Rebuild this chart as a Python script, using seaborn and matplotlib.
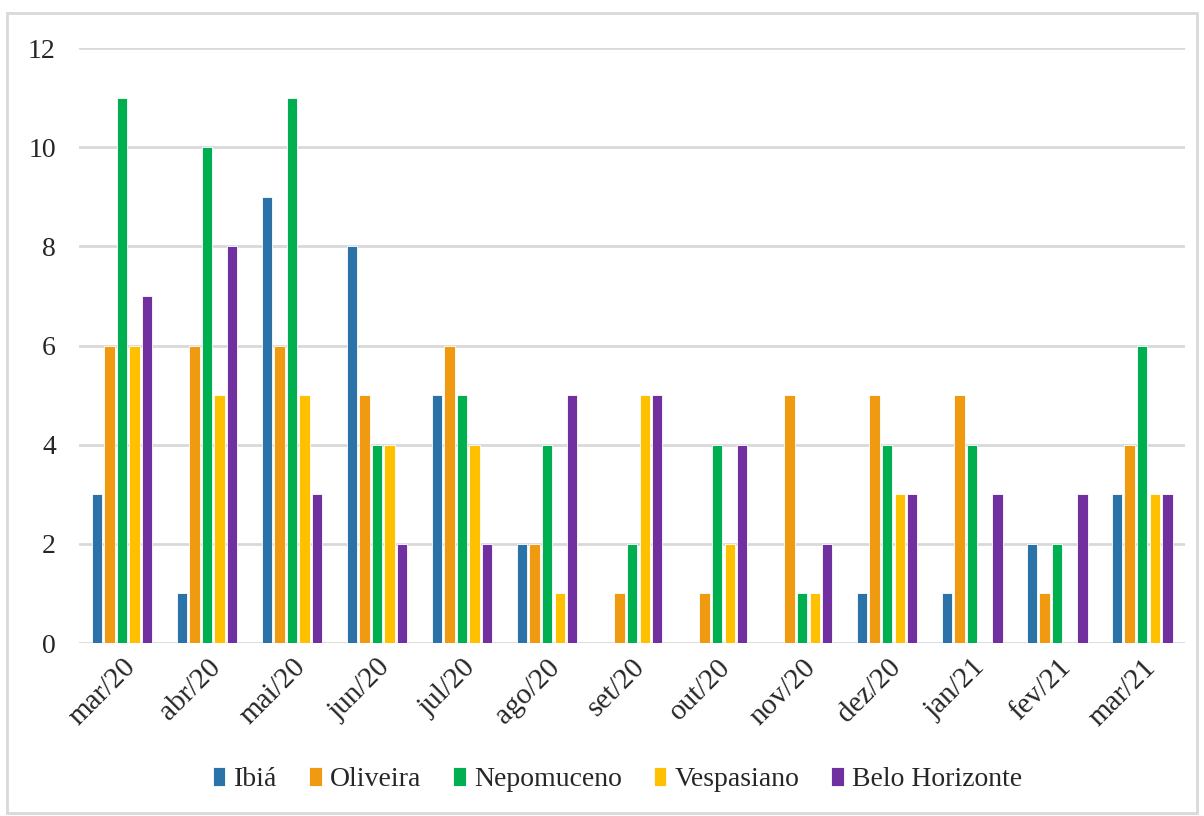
import numpy as np
import pandas as pd
import seaborn as sns
import matplotlib.pyplot as plt
from matplotlib.patches import Rectangle

months = ["mar/20", "abr/20", "mai/20", "jun/20", "jul/20", "ago/20", "set/20",
          "out/20", "nov/20", "dez/20", "jan/21", "fev/21", "mar/21"]
cities = ["Ibiá", "Oliveira", "Nepomuceno", "Vespasiano", "Belo Horizonte"]

ibia = [3, 1, 9, 8, 5, 2, 0, 0, 0, 1, 1, 2, 3]
oliveira = [6, 6, 6, 5, 6, 2, 1, 1, 5, 5, 5, 1, 4]
nepomuceno = [11, 10, 11, 4, 5, 4, 2, 4, 1, 4, 4, 2, 6]
vespasiano = [6, 5, 5, 4, 4, 1, 5, 2, 1, 3, 0, 0, 3]
belo_horizonte = [7, 8, 3, 2, 2, 5, 5, 4, 2, 3, 3, 3, 3]

colors = ["#2A72A8", "#F09A12", "#00B050", "#FFC000", "#7030A0"]

series = [ibia, oliveira, nepomuceno, vespasiano, belo_horizonte]
df = pd.DataFrame({
    "month": months * len(cities),
    "city": np.repeat(cities, len(months)),
    "value": np.concatenate(series),
})

sns.set_style("white")
plt.rcParams["font.family"] = ["Liberation Serif", "DejaVu Serif"]

fig, ax = plt.subplots(figsize=(12.04, 8.16), dpi=100)
fig.subplots_adjust(left=0.066, right=0.984, bottom=0.212, top=0.941)

sns.barplot(
    data=df, x="month", y="value", hue="city",
    order=months, hue_order=cities, palette=colors, saturation=1,
    width=0.74, gap=0.18, edgecolor="white", linewidth=0.6,
    ax=ax
)

ax.set_xlim(-0.5, 12.5)
ax.set_ylim(0, 12)
ax.set_yticks(range(0, 13, 2))
ax.yaxis.grid(True, color="#d9d9d9", linewidth=2)
ax.set_axisbelow(True)
for s in ax.spines.values():
    s.set_visible(False)
ax.tick_params(axis="both", length=0)
ax.tick_params(axis="y", pad=17, labelsize=20)
ax.tick_params(axis="x", pad=8, labelsize=21)
plt.setp(ax.get_xticklabels(), rotation=45, ha="right", rotation_mode="anchor")
ax.set_xlabel("")
ax.set_ylabel("")

ax.legend(
    loc="center", bbox_to_anchor=(0.513, 0.045), bbox_transform=fig.transFigure,
    ncol=5, frameon=False, fontsize=20, handlelength=0.45, handleheight=0.7,
    handletextpad=0.3, columnspacing=1.15
)

fig.patches.append(Rectangle((0.006, 0.004), 0.988, 0.98, transform=fig.transFigure,
                             fill=False, edgecolor="#d9d9d9", linewidth=2))

plt.savefig("out.png", dpi=100)
